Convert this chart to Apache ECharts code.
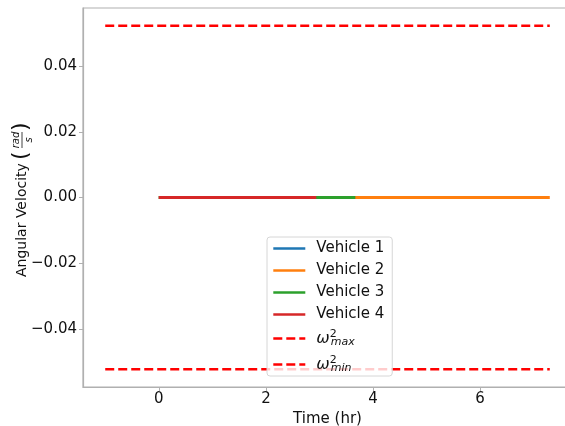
<!DOCTYPE html>
<html><head><meta charset="utf-8">
<script src="https://cdn.jsdelivr.net/npm/echarts@6/dist/echarts.min.js"></script>
<style>html,body{margin:0;padding:0;background:#fff}#c{width:565px;height:426px}</style>
</head><body><div id="c"></div>
<script>
// Data
const vehicleNames = ['Vehicle 1','Vehicle 2','Vehicle 3','Vehicle 4'];
const vehicleColors = ['#1f77b4','#ff7f0e','#2ca02c','#d62728'];
const v1Time = [0, 2.94];
const v2Time = [0, 7.3];
const v3Time = [0, 3.67];
const v4Time = [0, 2.94];
const vehicleOmega = [0, 0];
const omegaMax = 0.05236;
const omegaMin = -0.05236;
const limitTime = [-1, 7.3];
const xTicks = [0, 2, 4, 6];
const yTicks = [-0.04, -0.02, 0, 0.02, 0.04];

const times = [v1Time, v2Time, v3Time, v4Time];
const font = 'DejaVu Sans';
const chart = echarts.init(document.getElementById('c'), null, {renderer:'canvas'});

const series = vehicleNames.map((n,i)=>({
  name:n, type:'line', showSymbol:false, symbol:'none', animation:false,
  data: times[i].map((t,k)=>[t, vehicleOmega[k]]),
  lineStyle:{color:vehicleColors[i], width:3},
  itemStyle:{color:vehicleColors[i]}
}));
series.push({
  name:'wmax', type:'line', showSymbol:false, symbol:'none', animation:false,
  data: limitTime.map(t=>[t, omegaMax]),
  lineStyle:{color:'#ff0000', width:2.6, type:[9,4]}, itemStyle:{color:'#ff0000'}
});
series.push({
  name:'wmin', type:'line', showSymbol:false, symbol:'none', animation:false,
  data: limitTime.map(t=>[t, omegaMin]),
  lineStyle:{color:'#ff0000', width:2.6, type:[9,4]}, itemStyle:{color:'#ff0000'}
});

const axisCol = '#b0b0b0';
const fmtNum = v => (v<0?'\u2212':'') + Math.abs(v).toFixed(2);

chart.setOption({
  animation:false,
  textStyle:{fontFamily:font},
  grid:{left:83, top:8, width:489, height:379, outerBoundsMode:'none', containLabel:false,
        show:true, borderColor:axisCol, borderWidth:1.2, backgroundColor:'transparent'},
  xAxis:{
    type:'value', min:-1.415, max:7.715,
    name:'Time (hr)', nameLocation:'middle', nameGap:17,
    nameTextStyle:{fontSize:15, color:'#111', fontFamily:font},
    axisLine:{show:true, onZero:false, lineStyle:{color:axisCol, width:1.2}},
    axisTick:{show:true, inside:false, length:4, customValues:xTicks, lineStyle:{color:axisCol}},
    axisLabel:{show:true, customValues:xTicks, fontSize:15, color:'#111', margin:5, fontFamily:font, formatter:v=>String(v)},
    splitLine:{show:false}
  },
  yAxis:{
    type:'value', min:-0.05775, max:0.05775,
    axisLine:{show:true, onZero:false, lineStyle:{color:axisCol, width:1.2}},
    axisTick:{show:true, inside:false, length:4, customValues:yTicks, lineStyle:{color:axisCol}},
    axisLabel:{show:true, customValues:yTicks, fontSize:15, color:'#111', margin:6, fontFamily:font, formatter:fmtNum},
    splitLine:{show:false}
  },
  legend:{
    orient:'vertical', left:267, top:237,
    itemStyle:{opacity:0, borderWidth:0},
    lineStyle:{width:2.6},
    data:['Vehicle 1','Vehicle 2','Vehicle 3','Vehicle 4','wmax','wmin'],
    backgroundColor:'rgba(255,255,255,0.8)', borderColor:'#d6d6d6', borderWidth:1, borderRadius:3,
    padding:[4,8,2,5], itemGap:7, itemWidth:32, itemHeight:15,
    textStyle:{fontSize:15, color:'#111', fontFamily:font,
      rich:{
        t:{fontSize:15, color:'#111', fontFamily:font, padding:[0,0,0,6]},
        w:{fontSize:16, color:'#111', fontFamily:font, fontStyle:'italic', padding:[0,0,0,6], verticalAlign:'middle', lineHeight:19},
        sp:{fontSize:11, color:'#111', fontFamily:font, verticalAlign:'top', lineHeight:19},
        sb:{fontSize:11, color:'#111', fontFamily:font, fontStyle:'italic', verticalAlign:'bottom', lineHeight:19, padding:[0,0,0,-6]}
      }},
    formatter: n => n==='wmax' ? '{w|ω}{sp|2}{sb|max}' : n==='wmin' ? '{w|ω}{sp|2}{sb|min}' : '{t|'+n+'}'
  },
  graphic:[{
    type:'group', x:22, y:197, rotation:Math.PI/2, silent:true,
    children:[
      {type:'text', x:-80, y:0, style:{text:'Angular Velocity', fontSize:14, fontFamily:font, fill:'#111', align:'left', verticalAlign:'middle'}},
      {type:'text', x:37, y:-1, style:{text:'(', fontSize:22, fontFamily:font, fill:'#111', align:'left', verticalAlign:'middle'}},
      {type:'text', x:57, y:-6, style:{text:'rad', fontSize:10, fontFamily:font, fontStyle:'italic', fill:'#111', align:'center', verticalAlign:'middle'}},
      {type:'line', shape:{x1:49, y1:0, x2:65, y2:0}, style:{stroke:'#111', lineWidth:0.8}},
      {type:'text', x:57, y:7, style:{text:'s', fontSize:10, fontFamily:font, fontStyle:'italic', fill:'#111', align:'center', verticalAlign:'middle'}},
      {type:'text', x:66, y:-1, style:{text:')', fontSize:22, fontFamily:font, fill:'#111', align:'left', verticalAlign:'middle'}}
    ]
  }],
  series: series
});
</script></body></html>
